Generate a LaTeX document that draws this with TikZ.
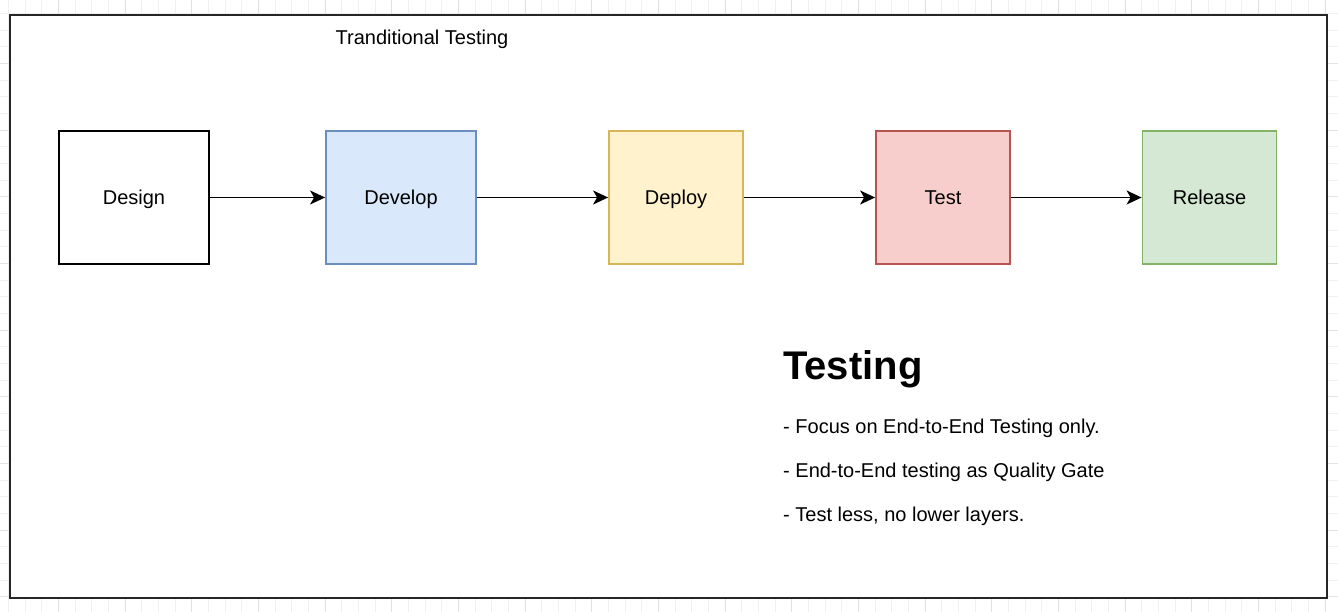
\documentclass[tikz,border=0pt]{standalone}
\usepackage{fontspec}
\setmainfont{Liberation Sans}
\usetikzlibrary{arrows.meta}
\definecolor{blueF}{HTML}{DAE8FC}\definecolor{blueD}{HTML}{6C8EBF}
\definecolor{yelF}{HTML}{FFF2CC}\definecolor{yelD}{HTML}{D6B656}
\definecolor{redF}{HTML}{F8CECC}\definecolor{redD}{HTML}{B85450}
\definecolor{grnF}{HTML}{D5E8D4}\definecolor{grnD}{HTML}{82B366}
\definecolor{gridminor}{HTML}{F0F0F0}\definecolor{gridmajor}{HTML}{E2E2E2}
\begin{document}
\begin{tikzpicture}[x=1pt,y=-1pt,
  stagebox/.style={draw, line width=1.8pt, minimum height=133pt, inner sep=0pt,
    text height=14.5pt, text depth=0pt, font=\fontsize{20}{24}\selectfont},
  flow/.style={line width=1.6pt, -{Stealth[length=15pt,width=14pt,inset=4pt]}},
  bodytext/.style={font=\fontsize{20}{24}\selectfont, anchor=base west, inner sep=0pt}]
\useasboundingbox (0,0) rectangle (1338,612);
\fill[white] (0,0) rectangle (1338,612);
% background grid
\foreach \i in {0,...,80} {
  \draw[gridminor, line width=0.8pt] ({8.33+16.667*\i},0) -- ({8.33+16.667*\i},612);
}
\foreach \i in {0,...,37} {
  \draw[gridminor, line width=0.8pt] (0,{-3.33+16.667*\i}) -- (1338,{-3.33+16.667*\i});
}
\foreach \i in {0,...,20} {
  \draw[gridmajor, line width=0.8pt] ({-8.33+66.667*\i},0) -- ({-8.33+66.667*\i},612);
}
\foreach \i in {1,...,9} {
  \draw[gridmajor, line width=0.8pt] (0,{-3.33+66.667*\i}) -- (1338,{-3.33+66.667*\i});
}
% frame
\node[draw=black!85, fill=white, line width=2pt, minimum width=1317pt, minimum height=583pt,
  inner sep=0pt, anchor=north west] (frame) at (8.5,14) {};
\node[font=\fontsize{20}{24}\selectfont, inner sep=0pt, anchor=base] (title) at (422,45) {Tranditional Testing};
% stages
\node[stagebox, fill=white, minimum width=150pt] (design) at (134,197.5) {Design};
\node[stagebox, draw=blueD, fill=blueF, minimum width=150pt] (develop) at (401,197.5) {Develop};
\node[stagebox, draw=yelD, fill=yelF, minimum width=134pt] (deploy) at (676,197.5) {Deploy};
\node[stagebox, draw=redD, fill=redF, minimum width=134pt] (test) at (943,197.5) {Test};
\node[stagebox, draw=grnD, fill=grnF, minimum width=134pt] (release) at (1209.5,197.5) {Release};
\draw[flow] (design) -- (develop);
\draw[flow] (develop) -- (deploy);
\draw[flow] (deploy) -- (test);
\draw[flow] (test) -- (release);
% text block
\node[font=\fontsize{40}{46}\selectfont\bfseries, anchor=base west, inner sep=0pt] (head) at (783,379) {Testing};
\node[bodytext] (b1) at (783,433) {- Focus on End-to-End Testing only.};
\node[bodytext] (b2) at (783,477) {- End-to-End testing as Quality Gate};
\node[bodytext] (b3) at (783,521) {- Test less, no lower layers.};
\end{tikzpicture}
\end{document}
